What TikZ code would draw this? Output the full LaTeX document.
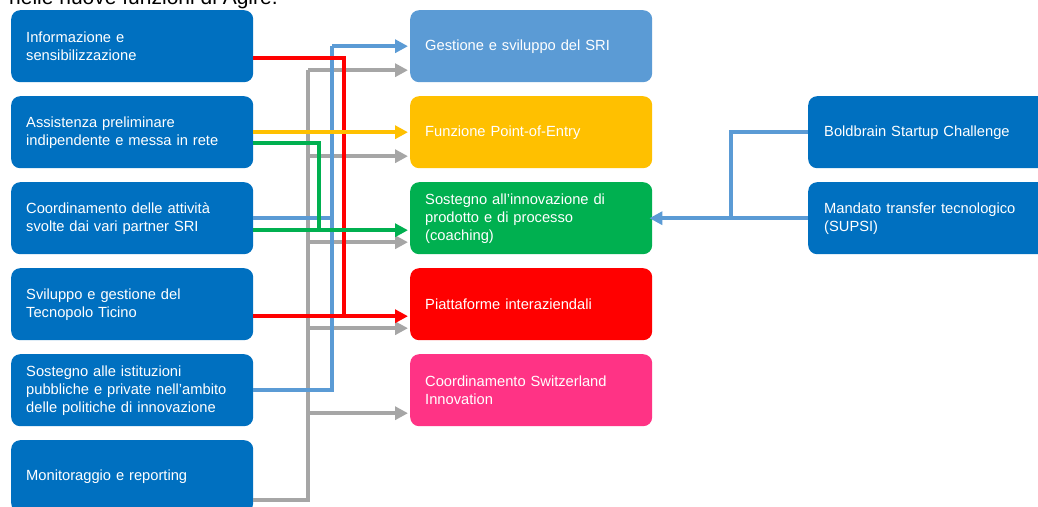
\documentclass[tikz,border=0pt]{standalone}
\usepackage{fontspec}
\setmainfont{Liberation Sans}
\usetikzlibrary{arrows.meta,calc}
\definecolor{leftblue}{HTML}{0070C0}
\definecolor{lightblue}{HTML}{5B9BD5}
\definecolor{ambra}{HTML}{FFC000}
\definecolor{verde}{HTML}{00B050}
\definecolor{rosso}{HTML}{FF0000}
\definecolor{rosa}{HTML}{FF3385}
\definecolor{grigio}{HTML}{A6A6A6}
\newcommand{\myboxfont}{\fontsize{14.7}{18}\selectfont}
\begin{document}
\begin{tikzpicture}[x=1pt,y=-1pt,
  box/.style={draw=none, rounded corners=9pt, minimum height=72pt, text width=212pt,
    inner xsep=15pt, inner ysep=0pt, align=left, text=white,
    font=\myboxfont, anchor=north west},
  conn/.style={line width=3.8pt, -{Triangle[length=13pt,width=13pt]}, shorten >=2pt},
  plain/.style={line width=3.8pt}
]
\clip (0,0) rectangle (1038,506);
\fill[white] (0,0) rectangle (1038,506);

% partially visible heading
\node[anchor=base west, inner sep=0pt, font=\fontsize{21}{24}\selectfont] (title) at (9,4.5) {nelle nuove funzioni di Agire.};

% left column
\node[box, fill=leftblue] (l1) at (11,10) {Informazione e\\sensibilizzazione};
\node[box, fill=leftblue] (l2) at (11,96) {Assistenza preliminare\\indipendente e messa in rete};
\node[box, fill=leftblue] (l3) at (11,182) {Coordinamento delle attività\\svolte dai vari partner SRI};
\node[box, fill=leftblue] (l4) at (11,268) {Sviluppo e gestione del\\Tecnopolo Ticino};
\node[box, fill=leftblue] (l5) at (11,354) {Sostegno alle istituzioni\\pubbliche e private nell’ambito\\delle politiche di innovazione};
\node[box, fill=leftblue] (l6) at (11,440) {Monitoraggio e reporting};

% middle column
\node[box, fill=lightblue] (m1) at (410,10) {Gestione e sviluppo del SRI};
\node[box, fill=ambra] (m2) at (410,96) {Funzione Point-of-Entry};
\node[box, fill=verde] (m3) at (410,182) {Sostegno all’innovazione di\\prodotto e di processo\\(coaching)};
\node[box, fill=rosso] (m4) at (410,268) {Piattaforme interaziendali};
\node[box, fill=rosa] (m5) at (410,354) {Coordinamento Switzerland\\Innovation};

% right column
\node[box, fill=leftblue, inner xsep=16pt] (r1) at (808,96) {Boldbrain Startup Challenge};
\node[box, fill=leftblue, inner xsep=16pt] (r2) at (808,182) {Mandato transfer tecnologico\\(SUPSI)};

% helper coordinates
\coordinate (xg) at (308,0);
\coordinate (xb) at (332,0);
\coordinate (xgr) at (319,0);
\coordinate (xr) at (344,0);
\coordinate (xrr) at (731,0);

\coordinate (g1) at ([yshift=-24pt]m1.west);
\coordinate (g2) at ([yshift=-24pt]m2.west);
\coordinate (g3) at ([yshift=-24pt]m3.west);
\coordinate (g4) at ([yshift=-24pt]m4.west);
\coordinate (g5) at ([yshift=-23pt]m5.west);
\coordinate (b1) at (m1.west);
\coordinate (gr3) at ([yshift=-12pt]m3.west);
\coordinate (r4) at ([yshift=-12pt]m4.west);

% gray connectors
\draw[plain, grigio] ([yshift=-24pt]l6.east) -| (xg |- g1);
\draw[conn, grigio] (xg |- g1) -- (g1);
\draw[conn, grigio] (xg |- g2) -- (g2);
\draw[conn, grigio] (xg |- g3) -- (g3);
\draw[conn, grigio] (xg |- g4) -- (g4);
\draw[conn, grigio] (xg |- g5) -- (g5);

% light blue connectors
\draw[plain, lightblue] (l5.east) -| (xb |- b1);
\draw[plain, lightblue] (l3.east) -- (xb |- l3.east);
\draw[conn, lightblue] (xb |- b1) -- (b1);

% red connectors
\draw[plain, rosso] ([yshift=-12pt]l1.east) -| (xr |- r4);
\draw[conn, rosso] ([yshift=-12pt]l4.east) -- (r4);

% green connectors
\draw[plain, verde] ([yshift=-11pt]l2.east) -| (xgr |- gr3);
\draw[conn, verde] ([yshift=-12pt]l3.east) -- (gr3);

% yellow connector
\draw[conn, ambra] (l2.east) -- (m2.west);

% right side connectors
\draw[plain, lightblue] (r1.west) -| (xrr |- m3.east);
\draw[conn, lightblue, shorten >=-3pt] (r2.west) -- (m3.east);
\end{tikzpicture}
\end{document}
